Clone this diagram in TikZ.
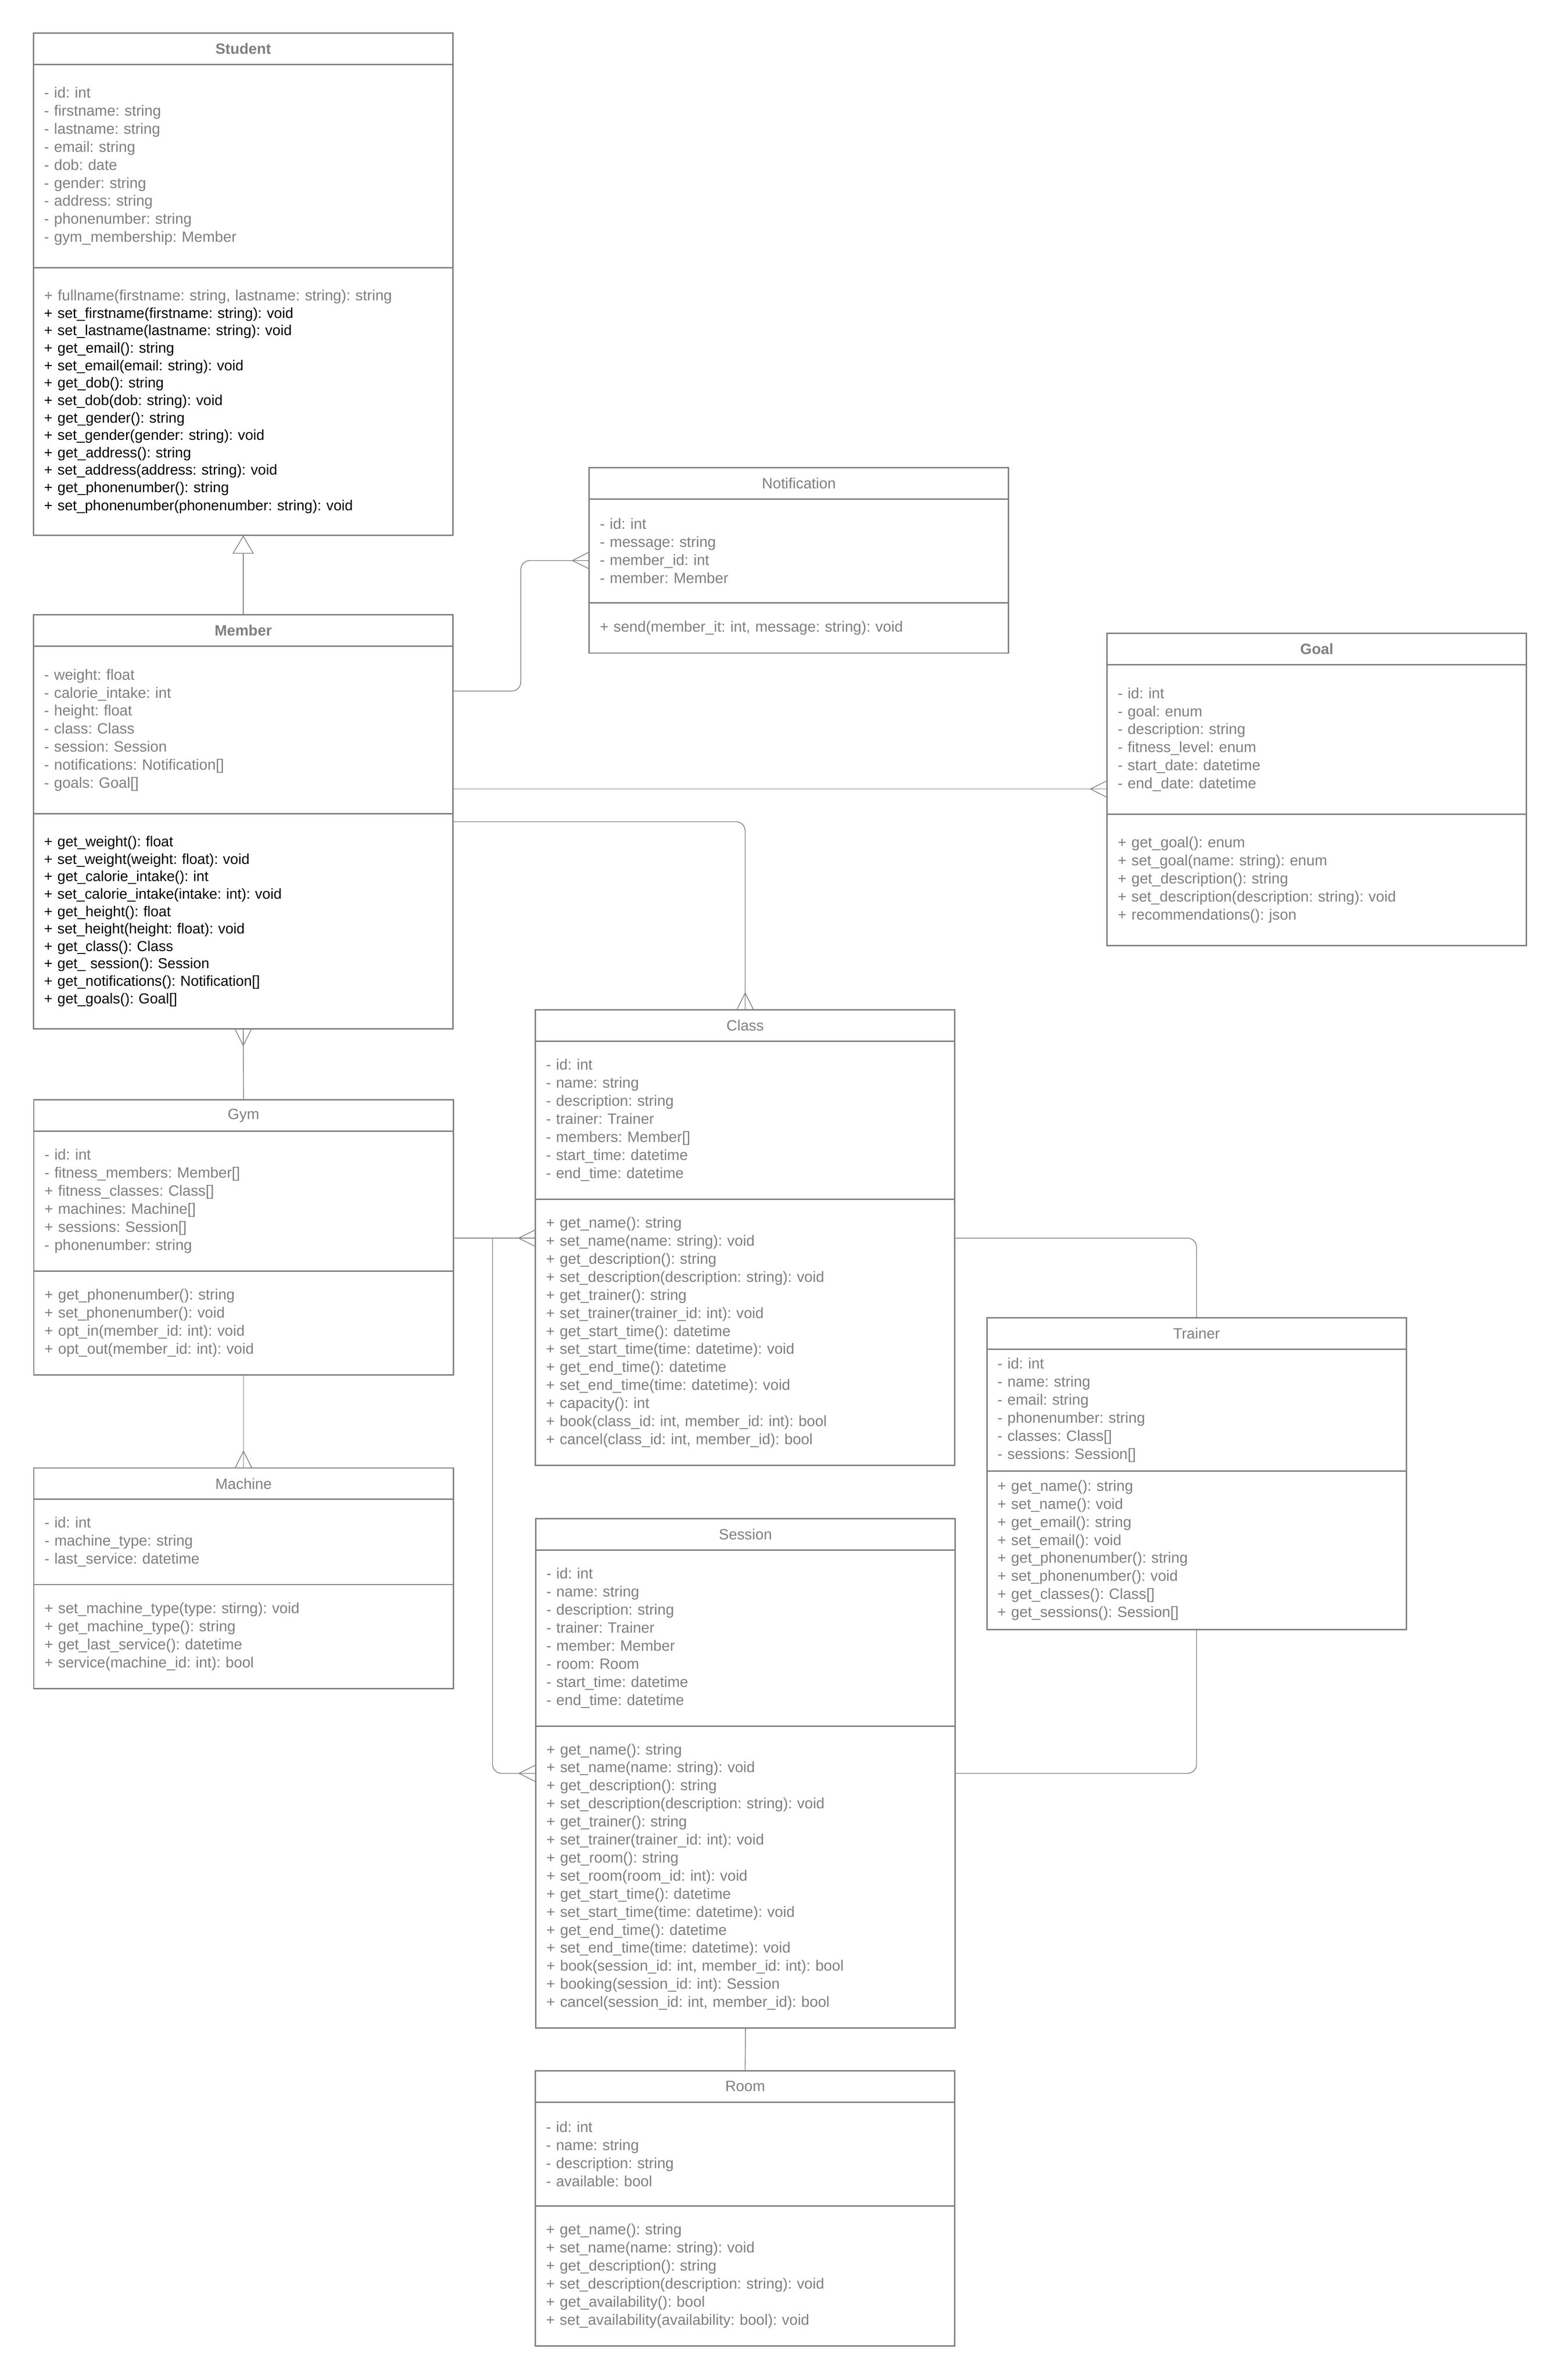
\documentclass[tikz,border=0pt]{standalone}
\usepackage{fontspec}
\setmainfont{Liberation Sans}
\usetikzlibrary{positioning}
\usetikzlibrary{arrows.meta}
\definecolor{boxgray}{HTML}{808080}
\definecolor{txtgray}{HTML}{7F7F7F}
\tikzset{crowfoot/.pic={\draw[boxgray, line width=0.5pt] (0,5.5) -- (-11,0) -- (0,-5.5);}}

\begin{document}
\frenchspacing
\begin{tikzpicture}[x=1pt,y=1pt]
      \tikzstyle classhead=[draw=boxgray, line width=0.9pt, minimum width=275.5pt,
      minimum height=20.6pt, inner sep=0pt, outer sep=0pt, anchor=north west,
      text=txtgray, font=\fontsize{9.8}{11.85}\selectfont]
      \tikzstyle classpart=[draw=boxgray, line width=0.9pt, minimum width=275.5pt,
      text width=261.5pt, inner xsep=7pt, inner ysep=0pt, outer sep=0pt, align=left,
      text=txtgray, font=\fontsize{9.8}{11.85}\selectfont]
      \tikzstyle blackpart=[text=black, font=\fontsize{9.5}{11.45}\selectfont]
      \tikzstyle assoc=[draw=boxgray, line width=0.5pt]
      \path[fill=white, use as bounding box] (0,0) rectangle (1024,-1563.4);

      \node[classhead] (studentH) at (22,-21.7) {\bfseries Student};
      \node[classpart, minimum height=133.7pt, below=0pt of studentH] (studentA)
      {- id: int\\- firstname: string\\- lastname: string\\- email: string\\- dob: date\\
      - gender: string\\- address: string\\- phonenumber: string\\- gym\_membership: Member};
      \node[classpart, minimum height=175.7pt, below=0pt of studentA] (studentM)
      {+ fullname(firstname: string, lastname: string): string\\
      \color{black}\fontsize{9.5}{11.45}\selectfont
      + set\_firstname(firstname: string): void\\+ set\_lastname(lastname: string): void\\
      + get\_email(): string\\+ set\_email(email: string): void\\+ get\_dob(): string\\
      + set\_dob(dob: string): void\\+ get\_gender(): string\\+ set\_gender(gender: string): void\\
      + get\_address(): string\\+ set\_address(address: string): void\\
      + get\_phonenumber(): string\\+ set\_phonenumber(phonenumber: string): void};

      \node[classhead] (notificationH) at (387,-307.3) {Notification};
      \node[classpart, minimum height=68.1pt, below=0pt of notificationH] (notificationA)
      {- id: int\\- message: string\\- member\_id: int\\- member: Member};
      \node[classpart, minimum height=33pt, below=0pt of notificationA] (notificationM)
      {+ send(member\_it: int, message: string): void};

      \node[classhead] (memberH) at (22,-403.9) {\bfseries Member};
      \node[classpart, minimum height=110.1pt, below=0pt of memberH] (memberA)
      {- weight: float\\- calorie\_intake: int\\- height: float\\- class: Class\\
      - session: Session\\- notifications: Notification[]\\- goals: Goal[]};
      \node[classpart, blackpart, minimum height=141.2pt, below=0pt of memberA] (memberM)
      {+ get\_weight(): float\\+ set\_weight(weight: float): void\\+ get\_calorie\_intake(): int\\
      + set\_calorie\_intake(intake: int): void\\+ get\_height(): float\\
      + set\_height(height: float): void\\+ get\_class(): Class\\+ get\_ session(): Session\\
      + get\_notifications(): Notification[]\\+ get\_goals(): Goal[]};

      \node[classhead] (goalH) at (727.2,-416.1) {\bfseries Goal};
      \node[classpart, minimum height=98.2pt, below=0pt of goalH] (goalA)
      {- id: int\\- goal: enum\\- description: string\\- fitness\_level: enum\\
      - start\_date: datetime\\- end\_date: datetime};
      \node[classpart, minimum height=86.2pt, below=0pt of goalA] (goalM)
      {+ get\_goal(): enum\\+ set\_goal(name: string): enum\\+ get\_description(): string\\
      + set\_description(description: string): void\\+ recommendations(): json};

      \node[classhead] (classH) at (351.7,-663.3) {Class};
      \node[classpart, minimum height=103.8pt, below=0pt of classH] (classA)
      {- id: int\\- name: string\\- description: string\\- trainer: Trainer\\
      - members: Member[]\\- start\_time: datetime\\- end\_time: datetime};
      \node[classpart, minimum height=174.9pt, below=0pt of classA] (classM)
      {+ get\_name(): string\\+ set\_name(name: string): void\\+ get\_description(): string\\
      + set\_description(description: string): void\\+ get\_trainer(): string\\
      + set\_trainer(trainer\_id: int): void\\+ get\_start\_time(): datetime\\
      + set\_start\_time(time: datetime): void\\+ get\_end\_time(): datetime\\
      + set\_end\_time(time: datetime): void\\+ capacity(): int\\
      + book(class\_id: int, member\_id: int): bool\\+ cancel(class\_id: int, member\_id): bool};

      \node[classhead] (trainerH) at (648.2,-865.7) {Trainer};
      \node[classpart, minimum height=80pt, below=0pt of trainerH] (trainerA)
      {- id: int\\- name: string\\- email: string\\- phonenumber: string\\
      - classes: Class[]\\- sessions: Session[]};
      \node[classpart, minimum height=104.1pt, below=0pt of trainerA] (trainerM)
      {+ get\_name(): string\\+ set\_name(): void\\+ get\_email(): string\\
      + set\_email(): void\\+ get\_phonenumber(): string\\+ set\_phonenumber(): void\\
      + get\_classes(): Class[]\\+ get\_sessions(): Session[]};

      \node[classhead] (gymH) at (22.2,-722.5) {Gym};
      \node[classpart, minimum height=91.8pt, below=0pt of gymH] (gymA)
      {- id: int\\- fitness\_members: Member[]\\+ fitness\_classes: Class[]\\
      + machines: Machine[]\\+ sessions: Session[]\\- phonenumber: string};
      \node[classpart, minimum height=68.3pt, below=0pt of gymA] (gymM)
      {+ get\_phonenumber(): string\\+ set\_phonenumber(): void\\
      + opt\_in(member\_id: int): void\\+ opt\_out(member\_id: int): void};

      \node[classhead] (machineH) at (22.2,-964.3) {Machine};
      \node[classpart, minimum height=56pt, below=0pt of machineH] (machineA)
      {- id: int\\- machine\_type: string\\- last\_service: datetime};
      \node[classpart, minimum height=68.3pt, below=0pt of machineA] (machineM)
      {+ set\_machine\_type(type: stirng): void\\+ get\_machine\_type(): string\\
      + get\_last\_service(): datetime\\+ service(machine\_id: int): bool};

      \node[classhead] (sessionH) at (351.9,-997.6) {Session};
      \node[classpart, minimum height=115.6pt, below=0pt of sessionH] (sessionA)
      {- id: int\\- name: string\\- description: string\\- trainer: Trainer\\
      - member: Member\\- room: Room\\- start\_time: datetime\\- end\_time: datetime};
      \node[classpart, minimum height=198.3pt, below=0pt of sessionA] (sessionM)
      {+ get\_name(): string\\+ set\_name(name: string): void\\+ get\_description(): string\\
      + set\_description(description: string): void\\+ get\_trainer(): string\\
      + set\_trainer(trainer\_id: int): void\\+ get\_room(): string\\
      + set\_room(room\_id: int): void\\+ get\_start\_time(): datetime\\
      + set\_start\_time(time: datetime): void\\+ get\_end\_time(): datetime\\
      + set\_end\_time(time: datetime): void\\+ book(session\_id: int, member\_id: int): bool\\
      + booking(session\_id: int): Session\\+ cancel(session\_id: int, member\_id): bool};

      \node[classhead] (roomH) at (351.7,-1360.2) {Room};
      \node[classpart, minimum height=68.2pt, below=0pt of roomH] (roomA)
      {- id: int\\- name: string\\- description: string\\- available: bool};
      \node[classpart, minimum height=92pt, below=0pt of roomA] (roomM)
      {+ get\_name(): string\\+ set\_name(name: string): void\\+ get\_description(): string\\
      + set\_description(description: string): void\\+ get\_availability(): bool\\
      + set\_availability(availability: bool): void};

      \coordinate (notifIn) at ([yshift=-6.25pt]notificationA.west);
      \coordinate (goalIn) at ([yshift=-32.5pt]goalA.west);
      \coordinate (classIn) at ([yshift=61.85pt]classM.west);
      \coordinate (sessIn) at ([yshift=68.05pt]sessionM.west);
      \coordinate (gymOut) at (gymA.east |- classIn);

      \draw [assoc, -{Triangle[open, width=14pt, length=12pt]}] (memberH.north) -- (studentM.south);
      \draw [assoc, rounded corners=6pt] ([yshift=25.6pt]memberA.east) -| ([xshift=-44.9pt]notifIn) -- (notifIn);
      \pic at (notifIn) {crowfoot};
      \draw [assoc] (memberA.east |- goalIn) -- (goalIn);
      \pic at (goalIn) {crowfoot};
      \draw [assoc, rounded corners=6pt] ([yshift=65.4pt]memberM.east) -| (classH.north);
      \pic[rotate=-90] at (classH.north) {crowfoot};
      \draw [assoc] (memberM.south) -- (gymH.north);
      \pic[rotate=90] at (memberM.south) {crowfoot};
      \draw [assoc] (gymM.south) -- (machineH.north);
      \pic[rotate=-90] at (machineH.north) {crowfoot};
      \draw [assoc] (gymOut) -- (classIn);
      \pic at (classIn) {crowfoot};
      \draw [assoc, rounded corners=6pt] ([xshift=25.8pt]gymOut) |- (sessIn);
      \pic at (sessIn) {crowfoot};
      \draw [assoc, rounded corners=6pt] (classM.east |- classIn) -| (trainerH.north);
      \draw [assoc, rounded corners=6pt] (trainerM.south) |- (sessionM.east |- sessIn);
      \draw [assoc] (sessionM.south) -- (roomH.north);
    \end{tikzpicture}
\end{document}
